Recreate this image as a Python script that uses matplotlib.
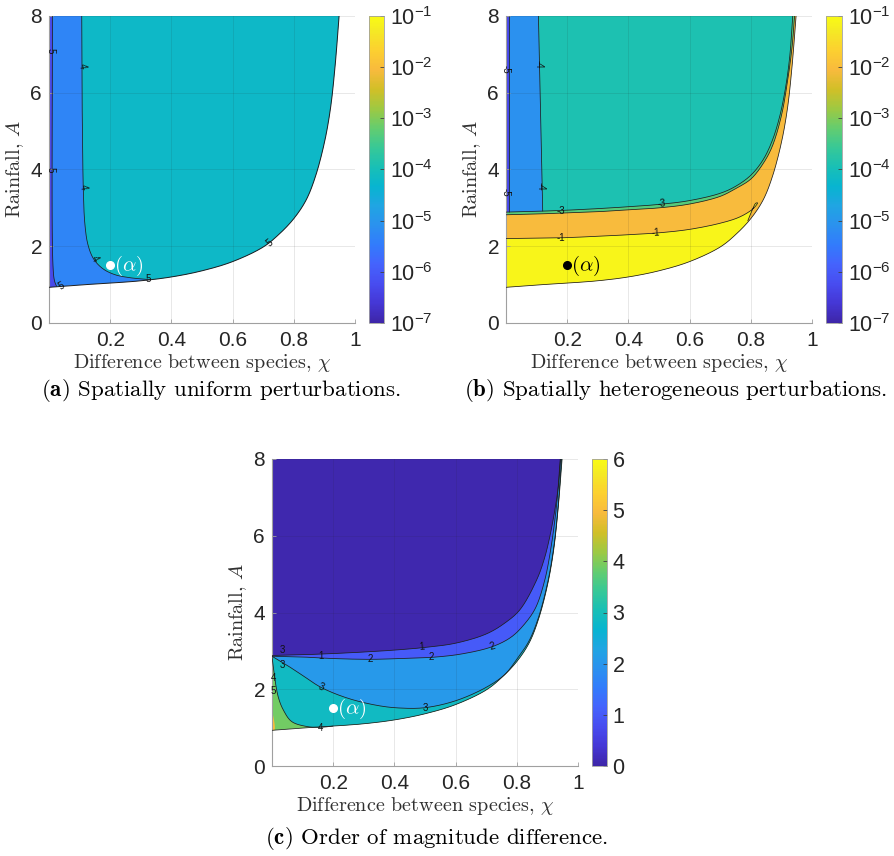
import numpy as np
import matplotlib
matplotlib.use('Agg')
import matplotlib.pyplot as plt
from matplotlib.colors import LinearSegmentedColormap, LogNorm, Normalize
from matplotlib.cm import ScalarMappable

plt.rcParams['font.family'] = ['Liberation Sans', 'DejaVu Sans']
plt.rcParams['mathtext.fontset'] = 'custom'
plt.rcParams['mathtext.rm'] = 'Liberation Sans'
plt.rcParams['mathtext.it'] = 'Liberation Sans:italic'
plt.rcParams['mathtext.bf'] = 'Liberation Sans:bold'

# ---------------- colormap (parula-like) ----------------
PARULA = [(0.2422, 0.1504, 0.6603), (0.2706, 0.2147, 0.8364), (0.2813, 0.3006, 0.9414),
          (0.2699, 0.3892, 0.9906), (0.1963, 0.4847, 0.9892), (0.1687, 0.5703, 0.9359),
          (0.1248, 0.6459, 0.8883), (0.0297, 0.7082, 0.8163), (0.0964, 0.7500, 0.7120),
          (0.2161, 0.7843, 0.5923), (0.3909, 0.8029, 0.4354), (0.6174, 0.7876, 0.2612),
          (0.8203, 0.7498, 0.1535), (0.9728, 0.7298, 0.2394), (0.9892, 0.8136, 0.1885),
          (0.9597, 0.9135, 0.1423), (0.9769, 0.9839, 0.0805)]
PARULA_POS = [0, 4, 8, 12, 16, 20, 24, 28, 32, 36, 40, 44, 48, 52, 56, 60, 63]
cmap = LinearSegmentedColormap.from_list(
    'parula', list(zip([p / 63 for p in PARULA_POS], PARULA)))

# ---------------- data ----------------
# lower / right edge of the existence region (shared by all panels)
low_chi = [0.0, 0.05, 0.1, 0.2, 0.3, 0.4, 0.5, 0.6, 0.7, 0.75, 0.8, 0.84, 0.87, 0.9, 0.92, 0.935, 0.948]
low_A   = [0.93, 0.96, 0.99, 1.04, 1.10, 1.2, 1.36, 1.6, 1.98, 2.3, 2.72, 3.2, 3.8, 4.7, 5.6, 6.7, 8.0]

# panel (a): levels are log10 of the growth rate
a_level_blue, a_level_teal, a_level_strip = -5.3, -4.2, -6.3
a_teal_chi = [0.107, 0.108, 0.110, 0.112, 0.117, 0.127, 0.145, 0.175, 0.215, 0.265, 0.33]
a_teal_A   = [8.0, 6.0, 4.5, 3.5, 2.6, 2.05, 1.68, 1.42, 1.26, 1.18, 1.13]
a_strip_chi = [0.025, 0.018, 0.013, 0.011]
a_strip_A   = [0.95, 1.1, 1.5, 8.0]
a_labels = [(0.107, 6.7, '4', -80), (0.112, 3.55, '4', -80), (0.148, 1.66, '4', -60),
            (0.005, 7.1, '5', -90), (0.005, 4.0, '5', -90), (0.04, 0.97, '5', 30),
            (0.325, 1.15, '5', 0), (0.72, 2.08, '5', 40)]

# panel (b)
b_level_orange, b_level_green, b_level_teal = -2.05, -3.3, -3.9
b_level_blue, b_level_strip, b_level_yellow = -5.1, -6.3, -1.1
b_green_chi = [0.0, 0.1, 0.2, 0.3, 0.4, 0.5, 0.6, 0.7, 0.75, 0.8, 0.84, 0.87, 0.9, 0.92, 0.935, 0.943]
b_green_A   = [2.82, 2.84, 2.87, 2.9, 2.95, 3.0, 3.1, 3.3, 3.5, 3.75, 4.15, 4.6, 5.4, 6.3, 7.2, 8.0]
b_teal_chi = [0.0, 0.1, 0.2, 0.3, 0.4, 0.5, 0.6, 0.7, 0.75, 0.8, 0.84, 0.87, 0.895, 0.915, 0.928, 0.937]
b_teal_A   = [2.89, 2.91, 2.94, 2.98, 3.03, 3.09, 3.19, 3.38, 3.56, 3.85, 4.25, 4.75, 5.4, 6.2, 7.0, 8.0]
b_yel_chi = [0.0, 0.18, 0.3, 0.4, 0.5, 0.6, 0.7, 0.76, 0.8, 0.816, 0.822, 0.816, 0.805, 0.79]
b_yel_A   = [2.2, 2.22, 2.26, 2.3, 2.35, 2.44, 2.6, 2.75, 2.93, 3.05, 3.13, 3.12, 2.95, 2.66]
b_blue_chi = [0.12, 0.106]
b_blue_A   = [2.91, 8.0]
b_strip_chi = [0.011, 0.011]
b_strip_A   = [2.89, 8.0]
b_labels = [(0.18, 2.93, '-3', 0), (0.51, 3.1, '-3', 5), (0.18, 2.22, '-1', 0),
            (0.49, 2.36, '-1', 3), (0.105, 6.75, '-4', -90), (0.112, 3.55, '-4', -90),
            (0.0, 6.6, '-5', -90), (0.0, 3.4, '-5', -90)]

# panel (c): order-of-magnitude difference
c_level_green, c_level_orange, c_level_teal = 3.9, 5.0, 2.86
c_level_blue, c_level_bp, c_level_navy = 2.05, 1.0, 0.05
c_orange_chi = [0.0, 0.008, 0.004, 0.0]
c_orange_A   = [0.93, 0.94, 1.3, 1.4]
c4_chi = [0.0, 0.004, 0.02, 0.037, 0.064, 0.113, 0.16, 0.2]
c4_A   = [2.85, 2.59, 1.81, 1.46, 1.16, 1.03, 1.01, 1.04]
c3_chi = [0.0, 0.05, 0.1, 0.16, 0.25, 0.35, 0.42, 0.5, 0.6, 0.7, 0.76, 0.8, 0.84, 0.87, 0.9, 0.92, 0.935, 0.946]
c3_A   = [2.86, 2.62, 2.36, 2.05, 1.76, 1.57, 1.51, 1.52, 1.7, 2.05, 2.38, 2.78, 3.26, 3.85, 4.75, 5.65, 6.75, 8.0]
c2_chi = [0.0, 0.1, 0.2, 0.32, 0.42, 0.52, 0.62, 0.72, 0.78, 0.82, 0.86, 0.89, 0.91, 0.93, 0.942]
c2_A   = [2.86, 2.84, 2.8, 2.78, 2.8, 2.83, 2.92, 3.11, 3.35, 3.65, 4.1, 4.8, 5.6, 6.8, 8.0]
c1_chi = [0.0, 0.1, 0.2, 0.3, 0.4, 0.5, 0.6, 0.7, 0.76, 0.81, 0.865, 0.89, 0.908, 0.925, 0.936, 0.943]
c1_A   = [2.88, 2.9, 2.93, 2.97, 3.02, 3.09, 3.2, 3.44, 3.72, 4.07, 4.85, 5.4, 5.98, 6.7, 7.3, 8.0]
c_labels = [(0.16, 2.87, '1', 0), (0.49, 3.1, '1', 5), (0.32, 2.78, '2', 0), (0.52, 2.83, '2', 0),
            (0.72, 3.12, '2', 15), (0.16, 2.05, '3', -20), (0.5, 1.5, '3', 0), (0.035, 2.62, '3', 0),
            (0.035, 3.02, '3', 0), (0.16, 1.0, '4', 0), (0.004, 2.3, '4', 0), (0.004, 1.95, '5', 0)]

alpha_point = (0.2, 1.5)

x_ticks = [0.2, 0.4, 0.6, 0.8, 1.0]
x_ticklabels = ['0.2', '0.4', '0.6', '0.8', '1']
y_ticks = [0, 2, 4, 6, 8]
log_ticks = [1e-7, 1e-6, 1e-5, 1e-4, 1e-3, 1e-2, 1e-1]
log_ticklabels = [r'$10^{-7}$', r'$10^{-6}$', r'$10^{-5}$', r'$10^{-4}$',
                  r'$10^{-3}$', r'$10^{-2}$', r'$10^{-1}$']
lin_ticks = [0, 1, 2, 3, 4, 5, 6]


# ---------------- helpers ----------------
def smooth(xs, ys, n=24):
    """centripetal Catmull-Rom curve through the read points (drawing only)"""
    P = np.column_stack([np.asarray(xs, float), np.asarray(ys, float) / 8.0])
    if len(P) < 3:
        return list(xs), list(ys)
    P = np.vstack([2 * P[0] - P[1], P, 2 * P[-1] - P[-2]])
    out = [P[1]]
    for i in range(1, len(P) - 2):
        p0, p1, p2, p3 = P[i - 1], P[i], P[i + 1], P[i + 2]
        t0 = 0.0
        t1 = t0 + max(np.linalg.norm(p1 - p0) ** 0.5, 1e-6)
        t2 = t1 + max(np.linalg.norm(p2 - p1) ** 0.5, 1e-6)
        t3 = t2 + max(np.linalg.norm(p3 - p2) ** 0.5, 1e-6)
        for t in np.linspace(t1, t2, n)[1:]:
            a1 = (t1 - t) / (t1 - t0) * p0 + (t - t0) / (t1 - t0) * p1
            a2 = (t2 - t) / (t2 - t1) * p1 + (t - t1) / (t2 - t1) * p2
            a3 = (t3 - t) / (t3 - t2) * p2 + (t - t2) / (t3 - t2) * p3
            b1 = (t2 - t) / (t2 - t0) * a1 + (t - t0) / (t2 - t0) * a2
            b2 = (t3 - t) / (t3 - t1) * a2 + (t - t1) / (t3 - t1) * a3
            out.append((t2 - t) / (t2 - t1) * b1 + (t - t1) / (t2 - t1) * b2)
    out = np.array(out)
    return list(out[:, 0]), list(out[:, 1] * 8.0)


# ---------------- figure ----------------
fig = plt.figure(figsize=(8.95, 8.56), dpi=100)
W, H = 895.0, 856.0


def box(x0, y0, x1, y1):
    return [x0 / W, 1 - y1 / H, (x1 - x0) / W, (y1 - y0) / H]


ax_a = fig.add_axes(box(49, 16, 355, 323))
cax_a = fig.add_axes(box(369, 16, 384, 323))
ax_b = fig.add_axes(box(506, 16, 812, 323))
cax_b = fig.add_axes(box(826, 16, 842, 323))
ax_c = fig.add_axes(box(272, 459, 578, 766))
cax_c = fig.add_axes(box(592, 459, 607, 766))

lognorm = LogNorm(1e-7, 1e-1)
linnorm = Normalize(0, 6)
LINE = '#1e1e1e'

LOWX, LOWY = smooth(low_chi, low_A)


def logcol(level):
    return cmap(lognorm(10.0 ** level))


def lincol(level):
    return cmap(linnorm(level))


def above(cx, cy):
    xs = list(cx) + [0.0]
    ys = list(cy) + [8.0]
    return xs, ys


def join_low(cx, cy, after):
    xs = list(cx) + [c for c in LOWX if c > after]
    ys = list(cy) + [a for c, a in zip(LOWX, LOWY) if c > after]
    return xs, ys


def style(ax):
    ax.set_xlim(0, 1)
    ax.set_ylim(0, 8)
    ax.set_xticks(x_ticks)
    ax.set_xticklabels(x_ticklabels)
    ax.set_yticks(y_ticks)
    for s in ['top', 'right']:
        ax.spines[s].set_visible(False)
    for s in ['left', 'bottom']:
        ax.spines[s].set_color('#a0a0a0')
        ax.spines[s].set_linewidth(0.8)
    ax.tick_params(direction='in', length=3, width=0.6, color='#a0a0a0',
                   labelsize=15, labelcolor='#262626')
    ax.tick_params(axis='x', pad=6)
    ax.tick_params(axis='y', pad=5)
    ax.grid(True, color='#262626', alpha=0.12, lw=0.6)
    ax.set_axisbelow(False)
    ax.set_xlabel(r'Difference between species, $\chi$', fontfamily='cmr10',
                  fontsize=14.5, math_fontfamily='cm', color='#303030', labelpad=1)
    ax.set_ylabel(r'Rainfall, $A$', fontfamily='cmr10', fontsize=14.5,
                  math_fontfamily='cm', color='#303030', labelpad=3)


def labels(ax, items):
    for x, y, t, r in items:
        ax.text(x, y, t, fontsize=7, rotation=r, ha='center', va='center',
                color='#111111', zorder=6)


def cbar(cax, norm, ticks, ticklabels=None):
    sm = ScalarMappable(norm=norm, cmap=cmap)
    cb = fig.colorbar(sm, cax=cax)
    cb.set_ticks(ticks)
    if ticklabels is not None:
        cb.set_ticklabels(ticklabels)
    cb.minorticks_off()
    cb.outline.set_edgecolor('#a0a0a0')
    cb.outline.set_linewidth(0.6)
    cax.tick_params(direction='in', length=3, width=0.6, color='#404040',
                    labelsize=15.5, labelcolor='#262626', pad=4)
    return cb


def curve(ax, cx, cy, lw=0.55):
    ax.plot(cx, cy, color=LINE, lw=lw, zorder=4, solid_capstyle='butt')


def alpha_mark(ax, col):
    ax.plot(*alpha_point, 'o', color=col, ms=5.5, zorder=7)
    ax.text(alpha_point[0] + 0.014, alpha_point[1] - 0.02, r'$(\alpha)$', color=col,
            fontsize=15, math_fontfamily='cm', va='center', ha='left', zorder=7)


# ---- panel (a) ----
ax = ax_a
xs, ys = above(LOWX, LOWY)
ax.fill(xs, ys, color=logcol(a_level_blue), lw=0, zorder=1)
tx, ty = smooth(a_teal_chi, a_teal_A)
xs, ys = join_low(tx, ty, a_teal_chi[-1] + 0.01)
ax.fill(xs + [a_teal_chi[0]], ys + [8.0], color=logcol(a_level_teal), lw=0, zorder=2)
sx, sy = smooth(a_strip_chi, a_strip_A)
ax.fill([0.0] + sx + [0.0], [low_A[0]] + sy + [8.0],
        color=logcol(a_level_strip), lw=0, zorder=2)
curve(ax, tx, ty)
curve(ax, sx, sy)
curve(ax, LOWX, LOWY, 0.7)
alpha_mark(ax, 'white')
labels(ax, a_labels)
style(ax)
cbar(cax_a, lognorm, log_ticks, log_ticklabels)

# ---- panel (b) ----
ax = ax_b
xs, ys = above(LOWX, LOWY)
ax.fill(xs, ys, color=logcol(b_level_orange), lw=0, zorder=1)
gx, gy = smooth(b_green_chi, b_green_A)
ax.fill(*above(gx, gy), color=logcol(b_level_green), lw=0, zorder=2)
tx, ty = smooth(b_teal_chi, b_teal_A)
ax.fill(*above(tx, ty), color=logcol(b_level_teal), lw=0, zorder=2)
ax.fill([0.0] + b_blue_chi + [0.0], [b_teal_A[0]] + b_blue_A + [8.0],
        color=logcol(b_level_blue), lw=0, zorder=2)
ax.fill([0.0] + b_strip_chi + [0.0], [b_teal_A[0]] + b_strip_A + [8.0],
        color=logcol(b_level_strip), lw=0, zorder=2)
yx, yy = smooth(b_yel_chi, b_yel_A)
xs_low = [c for c in LOWX if c < b_yel_chi[-1]]
ys_low = [a for c, a in zip(LOWX, LOWY) if c < b_yel_chi[-1]]
ax.fill(yx + xs_low[::-1], yy + ys_low[::-1],
        color=logcol(b_level_yellow), lw=0, zorder=2)
for cx, cy in [(gx, gy), (tx, ty), (yx, yy), (b_blue_chi, b_blue_A),
               (b_strip_chi, b_strip_A), (LOWX, LOWY)]:
    curve(ax, cx, cy)
alpha_mark(ax, 'black')
labels(ax, b_labels)
style(ax)
cbar(cax_b, lognorm, log_ticks, log_ticklabels)

# ---- panel (c) ----
ax = ax_c
xs, ys = above(LOWX, LOWY)
ax.fill(xs, ys, color=lincol(c_level_green), lw=0, zorder=1)
ox, oy = smooth(c_orange_chi, c_orange_A)
ax.fill(ox, oy, color=lincol(c_level_orange), lw=0, zorder=2)
x4, y4 = smooth(c4_chi, c4_A)
xs, ys = join_low(x4, y4, c4_chi[-1])
ax.fill(xs + [0.0], ys + [8.0], color=lincol(c_level_teal), lw=0, zorder=2)
x3, y3 = smooth(c3_chi, c3_A)
ax.fill(*above(x3, y3), color=lincol(c_level_blue), lw=0, zorder=2)
x2, y2 = smooth(c2_chi, c2_A)
ax.fill(*above(x2, y2), color=lincol(c_level_bp), lw=0, zorder=2)
x1, y1 = smooth(c1_chi, c1_A)
ax.fill(*above(x1, y1), color=lincol(c_level_navy), lw=0, zorder=2)
for cx, cy in [(x4, y4), (x3, y3), (x2, y2), (x1, y1), (LOWX, LOWY)]:
    curve(ax, cx, cy)
alpha_mark(ax, 'white')
labels(ax, c_labels)
style(ax)
cbar(cax_c, linnorm, lin_ticks)

# ---- captions ----
cap_kw = dict(fontfamily='cmr10', fontsize=16.5, math_fontfamily='cm',
              ha='center', va='center', color='black')
fig.text(221 / W, 1 - 390 / H, r'$\mathbf{(a)}$ Spatially uniform perturbations.', **cap_kw)
fig.text(676 / W, 1 - 390 / H, r'$\mathbf{(b)}$ Spatially heterogeneous perturbations.', **cap_kw)
fig.text(436 / W, 1 - 839 / H, r'$\mathbf{(c)}$ Order of magnitude difference.', **cap_kw)

fig.savefig('out.png', dpi=100)
